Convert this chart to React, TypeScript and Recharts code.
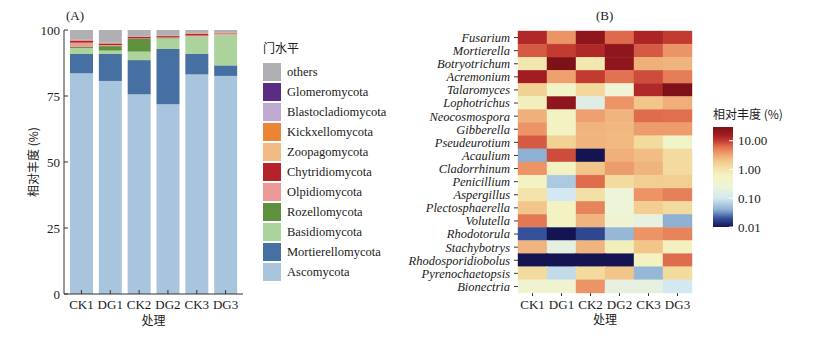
import { Bar, BarChart, Scatter, ScatterChart, XAxis, YAxis } from 'recharts';

const SAMPLES = ['CK1', 'DG1', 'CK2', 'DG2', 'CK3', 'DG3'];

// phylum level relative abundance (%), stacking order bottom -> top
const PHYLA = [
  'Ascomycota',
  'Mortierellomycota',
  'Basidiomycota',
  'Rozellomycota',
  'Olpidiomycota',
  'Chytridiomycota',
  'Zoopagomycota',
  'Kickxellomycota',
  'Blastocladiomycota',
  'Glomeromycota',
  'others',
];
const PHYLUM_COLORS = [
  '#a9c5dd',
  '#4670a2',
  '#acd39c',
  '#5d913e',
  '#eb9a97',
  '#b5232a',
  '#f1bb85',
  '#ea8535',
  '#bfa9d0',
  '#5b2c84',
  '#b0afb4',
];
const ascomycota = [83.6, 80.7, 75.6, 71.9, 83.2, 82.6];
const mortierellomycota = [7.3, 10.2, 13.0, 20.9, 7.7, 4.0];
const basidiomycota = [2.3, 1.3, 3.2, 4.0, 6.6, 11.5];
const rozellomycota = [0.4, 1.7, 4.9, 0.3, 0.1, 0.1];
const olpidiomycota = [1.6, 0.4, 0.1, 0.1, 0.3, 0.4];
const chytridiomycota = [0.8, 0.6, 0.6, 0.5, 0.6, 0.2];
const zoopagomycota = [0.1, 0.1, 0.1, 0.1, 0.1, 0.1];
const kickxellomycota = [0.1, 0.1, 0.05, 0.1, 0.2, 0.1];
const blastocladiomycota = [0.05, 0.05, 0.05, 0.05, 0.05, 0.05];
const glomeromycota = [0.05, 0.05, 0.05, 0.05, 0.05, 0.05];
const others = [3.7, 4.8, 2.5, 2.1, 1.1, 0.9];
const PHYLUM_VALUES = [
  ascomycota,
  mortierellomycota,
  basidiomycota,
  rozellomycota,
  olpidiomycota,
  chytridiomycota,
  zoopagomycota,
  kickxellomycota,
  blastocladiomycota,
  glomeromycota,
  others,
];

// genus level heatmap (%), rows top -> bottom, columns = SAMPLES
const GENERA = [
  'Fusarium',
  'Mortierella',
  'Botryotrichum',
  'Acremonium',
  'Talaromyces',
  'Lophotrichus',
  'Neocosmospora',
  'Gibberella',
  'Pseudeurotium',
  'Acaulium',
  'Cladorrhinum',
  'Penicillium',
  'Aspergillus',
  'Plectosphaerella',
  'Volutella',
  'Rhodotorula',
  'Stachybotrys',
  'Rhodosporidiobolus',
  'Pyrenochaetopsis',
  'Bionectria',
];
const GENUS_VALUES = [
  [13, 4.0, 22, 6.5, 14, 10],
  [7.5, 10, 13, 22, 7.5, 4.0],
  [0.9, 30, 0.9, 22, 2.8, 2.6],
  [16, 3.4, 10, 5.8, 8.5, 5.2],
  [1.6, 0.5, 1.4, 0.3, 13, 30],
  [0.7, 22, 0.15, 4.0, 2.0, 2.9],
  [2.8, 0.6, 3.4, 2.6, 6.3, 6.0],
  [4.0, 0.6, 2.6, 2.5, 3.6, 3.6],
  [7.5, 1.6, 2.6, 2.5, 1.3, 0.45],
  [0.04, 8.5, 0.005, 2.8, 2.3, 1.3],
  [4.0, 0.6, 2.0, 3.6, 2.6, 1.3],
  [0.6, 0.06, 6.3, 1.3, 1.7, 1.7],
  [1.0, 0.1, 1.1, 0.25, 4.0, 5.0],
  [2.0, 0.6, 4.8, 0.25, 1.7, 1.3],
  [5.5, 0.6, 2.6, 0.35, 0.2, 0.04],
  [0.02, 0.005, 0.018, 0.045, 4.0, 4.8],
  [2.6, 0.18, 2.6, 0.7, 2.0, 0.65],
  [0.005, 0.005, 0.005, 0.005, 0.6, 6.3],
  [1.3, 0.08, 1.3, 2.0, 0.045, 1.3],
  [0.35, 0.35, 4.0, 0.18, 0.18, 0.1],
];

const COLORBAR_TICKS = [0.01, 0.1, 1, 10];
const LOG_MIN = -2;
const LOG_MAX = Math.log10(30);

// [log10 value, colour]
const COLOR_STOPS: [number, string][] = [
  [-2.0, '#141452'],
  [-1.7, '#34509a'],
  [-1.4, '#8eb0d2'],
  [-1.0, '#d4e8f1'],
  [-0.6, '#eef4d8'],
  [-0.2, '#f3f2c1'],
  [0.1, '#f3dca0'],
  [0.3, '#f2c68a'],
  [0.45, '#f0b07a'],
  [0.6, '#ec9466'],
  [0.8, '#e06c4e'],
  [1.0, '#c23b31'],
  [1.2, '#a31c22'],
  [LOG_MAX, '#7e1118'],
];

const FONT = "'Liberation Serif', 'Noto Sans CJK SC', serif";
const CJK = "'Noto Sans CJK SC', 'Liberation Serif', sans-serif";
const TEXT = '#1a1a1a';
const AXIS = '#333';

function hexToRgb(h: string) {
  return [1, 3, 5].map((i) => parseInt(h.slice(i, i + 2), 16));
}

function heatColor(v: number) {
  const l = Math.min(Math.max(Math.log10(v), LOG_MIN), LOG_MAX);
  for (let i = 1; i < COLOR_STOPS.length; i++) {
    const [l1, c1] = COLOR_STOPS[i];
    const [l0, c0] = COLOR_STOPS[i - 1];
    if (l <= l1) {
      const t = (l - l0) / (l1 - l0);
      const a = hexToRgb(c0);
      const b = hexToRgb(c1);
      const rgb = a.map((x, k) => Math.round(x + (b[k] - x) * t));
      return `rgb(${rgb.join(',')})`;
    }
  }
  return COLOR_STOPS[COLOR_STOPS.length - 1][1];
}

const barData = SAMPLES.map((sample, i) => {
  const row: Record<string, string | number> = { sample };
  PHYLA.forEach((p, k) => {
    row[p] = PHYLUM_VALUES[k][i];
  });
  return row;
});

const heatData = GENERA.flatMap((genus, r) =>
  SAMPLES.map((sample, c) => ({ sample, genus, value: GENUS_VALUES[r][c] })),
);

// heatmap plot box
const HM_W = 174;
const HM_H = 262;
const CELL_W = HM_W / SAMPLES.length;
const CELL_H = HM_H / GENERA.length;

function HeatCell(props: any) {
  const { cx, cy, payload } = props;
  const fill = heatColor(payload.value);
  return (
    <rect
      x={cx - CELL_W / 2}
      y={cy - CELL_H / 2}
      width={CELL_W}
      height={CELL_H}
      fill={fill}
      stroke={fill}
      strokeWidth={0.4}
    />
  );
}

function PhylumLegend() {
  const items = PHYLA.map((p, i) => ({ p, color: PHYLUM_COLORS[i] })).reverse();
  return (
    <div style={{ position: 'absolute', left: 263, top: 40, fontFamily: FONT, color: TEXT }}>
      <div style={{ fontFamily: CJK, fontSize: 12, height: 22, lineHeight: '16px' }}>门水平</div>
      {items.map((it) => (
        <div key={it.p} style={{ display: 'flex', alignItems: 'center', height: 20 }}>
          <span style={{ width: 18, height: 18, background: it.color, display: 'inline-block' }} />
          <span style={{ marginLeft: 6, fontSize: 12.5, whiteSpace: 'nowrap' }}>{it.p}</span>
        </div>
      ))}
    </div>
  );
}

function ColorBar() {
  const top = 27;
  const h = 100;
  const y = (v: number) => top + h - ((Math.log10(v) - LOG_MIN) / (LOG_MAX - LOG_MIN)) * h;
  return (
    <svg width={139} height={140} style={{ position: 'absolute', left: 690, top: 100 }}>
      <defs>
        <linearGradient id="cbar" x1="0" y1="1" x2="0" y2="0">
          {COLOR_STOPS.map(([l, c]) => (
            <stop key={l} offset={(l - LOG_MIN) / (LOG_MAX - LOG_MIN)} stopColor={c} />
          ))}
        </linearGradient>
      </defs>
      <text x={23} y={19} fontFamily={CJK} fontSize={12} fill={TEXT}>
        相对丰度 (%)
      </text>
      <rect x={23} y={top} width={20} height={h} fill="url(#cbar)" />
      {COLORBAR_TICKS.map((t) => (
        <g key={t}>
          <line x1={39} x2={43} y1={y(t)} y2={y(t)} stroke="#fff" strokeWidth={1} />
          <text x={48} y={y(t)} dy="0.35em" fontFamily={FONT} fontSize={13} fill={TEXT}>
            {t.toFixed(2)}
          </text>
        </g>
      ))}
    </svg>
  );
}

export default function App() {
  const tick = { fontSize: 13, fill: TEXT, fontFamily: FONT };
  return (
    <div
      style={{
        position: 'absolute',
        left: 0,
        top: 0,
        width: 829,
        height: 338,
        background: '#fff',
        fontFamily: FONT,
      }}
    >
      <div style={{ position: 'absolute', left: 0, top: 0, width: 420, height: 338 }}>
        <BarChart
          width={250}
          height={338}
          data={barData}
          margin={{ top: 30, right: 7, bottom: 14, left: 0 }}
          barSize={23}
        >
          <XAxis
            dataKey="sample"
            height={30}
            interval={0}
            padding={{ left: 3, right: 3 }}
            tick={tick}
            tickSize={-4}
            tickMargin={10}
            stroke={AXIS}
            label={{ value: '处理', position: 'center', dy: 12, fontFamily: CJK, fontSize: 12, fill: TEXT }}
          />
          <YAxis
            width={64}
            domain={[0, 100]}
            ticks={[0, 25, 50, 75, 100]}
            allowDataOverflow
            tick={tick}
            tickSize={-4}
            tickMargin={8}
            stroke={AXIS}
            label={{
              value: '相对丰度 (%)',
              angle: -90,
              position: 'center',
              dx: 2,
              fontFamily: CJK,
              fontSize: 12,
              fill: TEXT,
            }}
          />
          {PHYLA.map((p, i) => (
            <Bar key={p} dataKey={p} stackId="a" fill={PHYLUM_COLORS[i]} isAnimationActive={false} />
          ))}
        </BarChart>
        <PhylumLegend />
        <div style={{ position: 'absolute', left: 66, top: 8, fontSize: 13, color: TEXT }}>(A)</div>
      </div>

      <div style={{ position: 'absolute', left: 400, top: 0 }}>
        <ScatterChart width={429} height={338} margin={{ top: 31, right: 137, bottom: 15, left: 0 }}>
          <XAxis
            type="category"
            dataKey="sample"
            allowDuplicatedCategory={false}
            interval={0}
            height={30}
            axisLine={false}
            tick={tick}
            tickSize={3}
            tickMargin={4}
            stroke={AXIS}
            label={{ value: '处理', position: 'center', dy: 12, fontFamily: CJK, fontSize: 12, fill: TEXT }}
          />
          <YAxis
            type="category"
            dataKey="genus"
            allowDuplicatedCategory={false}
            reversed
            width={118}
            interval={0}
            axisLine={false}
            tick={{ ...tick, fontSize: 12.5, fontStyle: 'italic' }}
            tickSize={4}
            tickMargin={4}
            stroke={AXIS}
          />
          <Scatter data={heatData} shape={HeatCell} isAnimationActive={false} />
        </ScatterChart>
        <div style={{ position: 'absolute', left: 196, top: 8, fontSize: 13, color: TEXT }}>(B)</div>
      </div>

      <ColorBar />
    </div>
  );
}
